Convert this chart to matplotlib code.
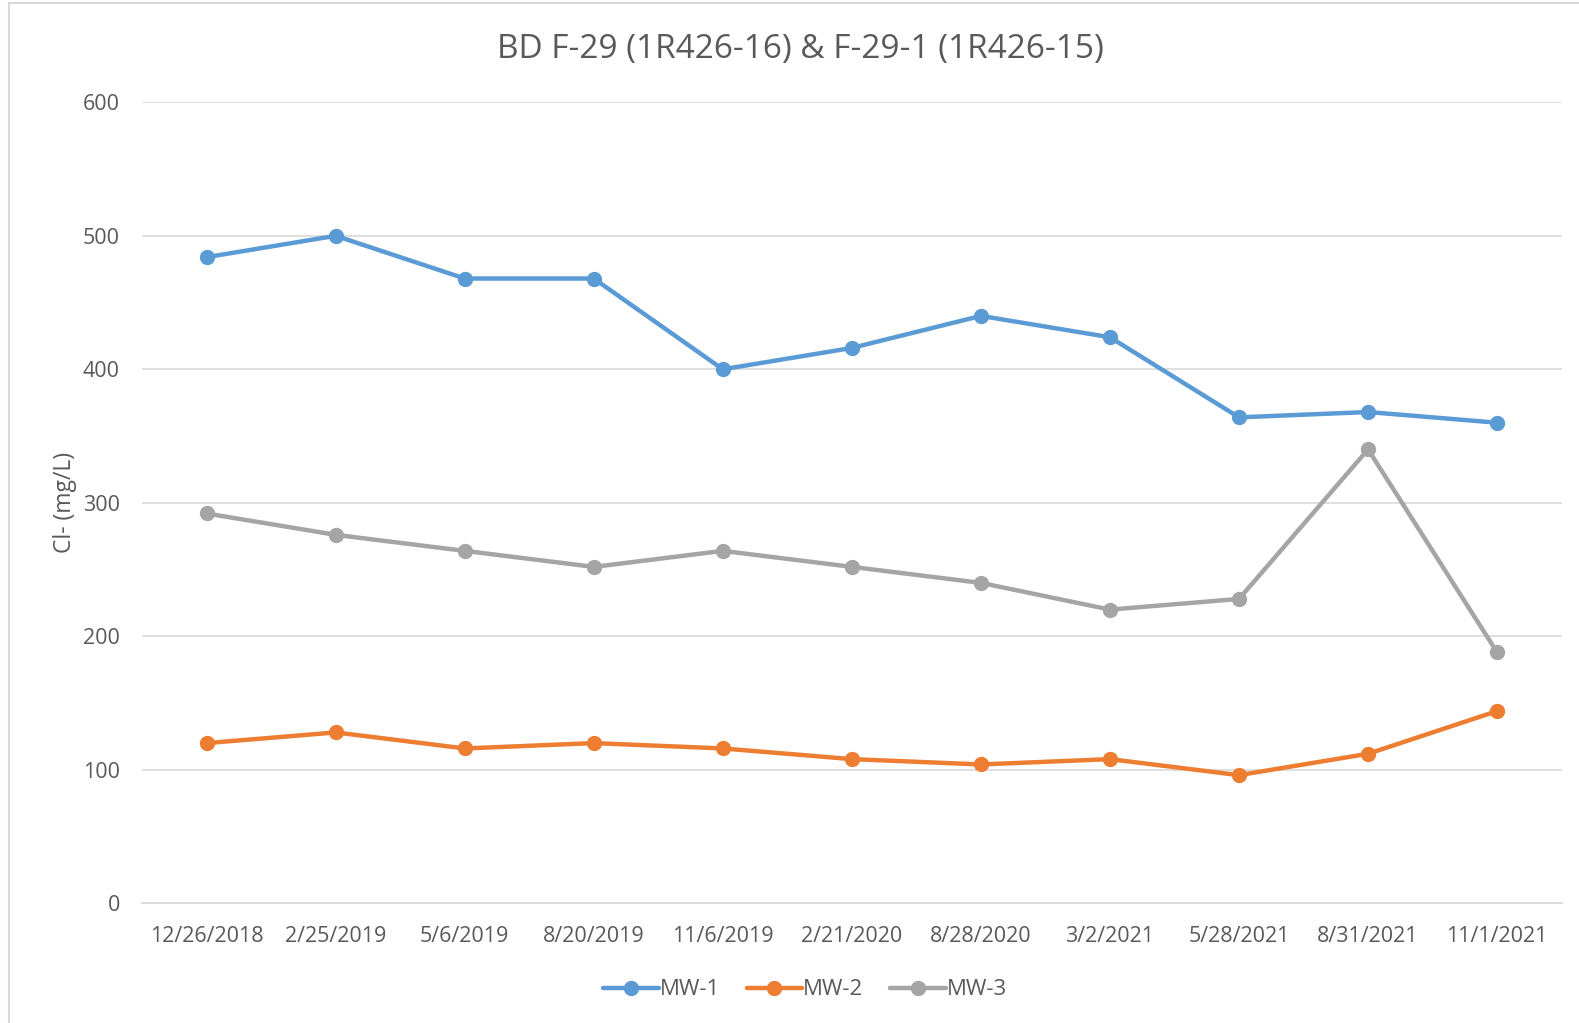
import matplotlib.pyplot as plt
import numpy as np

dates = ['12/26/2018', '2/25/2019', '5/6/2019', '8/20/2019', '11/6/2019', '2/21/2020',
         '8/28/2020', '3/2/2021', '5/28/2021', '8/31/2021', '11/1/2021']
mw1 = [484, 500, 468, 468, 400, 416, 440, 424, 364, 368, 360]
mw2 = [120, 128, 116, 120, 116, 108, 104, 108, 96, 112, 144]
mw3 = [292, 276, 264, 252, 264, 252, 240, 220, 228, 340, 188]
y_ticks = [0, 100, 200, 300, 400, 500, 600]

plt.rcParams['font.family'] = ['Open Sans', 'DejaVu Sans']
txt = '#595959'

fig = plt.figure(figsize=(15.79, 10.23), dpi=100)
ax = fig.add_axes([0.090, 0.117, 0.899, 0.783])
x = np.arange(len(dates))

for vals, name, col in [(mw1, 'MW-1', '#5B9BD5'), (mw2, 'MW-2', '#ED7D31'), (mw3, 'MW-3', '#A5A5A5')]:
    ax.plot(x, vals, color=col, lw=3.2, marker='o', markersize=10, label=name,
            solid_capstyle='round', zorder=3)

ax.set_xlim(-0.5, len(dates) - 0.5)
ax.set_ylim(0, 600)
ax.set_yticks(y_ticks)
ax.set_xticks(x)
ax.set_xticklabels(dates)
ax.grid(axis='y', color='#D9D9D9', lw=1.2)
ax.set_axisbelow(True)
for s in ['top', 'right', 'left']:
    ax.spines[s].set_visible(False)
ax.spines['bottom'].set_color('#D9D9D9')
ax.spines['bottom'].set_linewidth(1.2)
ax.tick_params(axis='both', length=0, colors=txt, labelsize=15.5)
ax.tick_params(axis='x', pad=16)
ax.tick_params(axis='y', pad=16)
ax.set_ylabel('Cl- (mg/L)', color=txt, fontsize=16.5, labelpad=4)

fig.suptitle('BD F-29 (1R426-16) & F-29-1 (1R426-15)', color=txt, fontsize=24, x=0.507, y=0.968)

ax.legend(loc='upper center', bbox_to_anchor=(0.467, -0.07), ncol=3, frameon=False,
          fontsize=16, labelcolor=txt, handlelength=2.5, handletextpad=0.05, columnspacing=1.2)

# light border on the top and left edges only, as in the reference
fig.add_artist(plt.Line2D([0.006, 0.006], [0, 0.997], transform=fig.transFigure, color='#D9D9D9', lw=1.5))
fig.add_artist(plt.Line2D([0.006, 1.0], [0.997, 0.997], transform=fig.transFigure, color='#D9D9D9', lw=1.5))

fig.savefig('out.png', dpi=100)
